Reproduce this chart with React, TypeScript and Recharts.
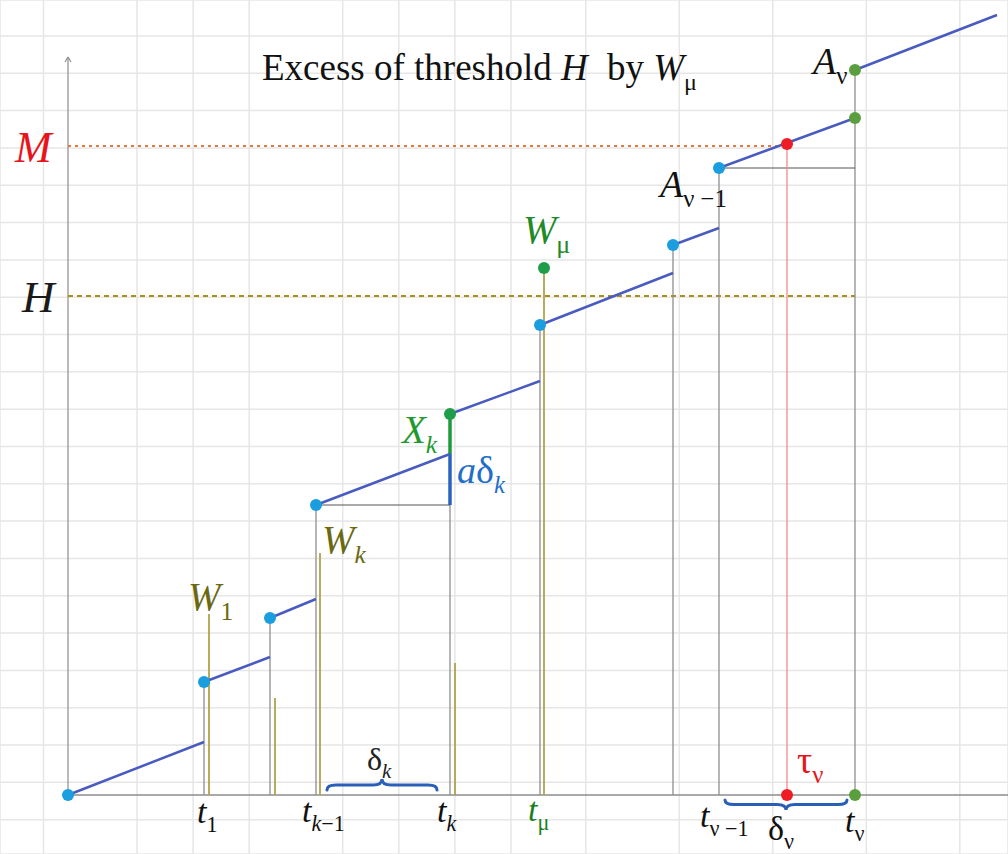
import {
  CartesianGrid,
  ComposedChart,
  Line,
  ReferenceArea,
  ReferenceDot,
  ReferenceLine,
  Scatter,
  XAxis,
  YAxis,
} from 'recharts';

// jump moments t_1 ... t_nu and the process level just before / just after each jump
const jumpTimes = [136, 202, 248, 382, 472, 605, 651, 787];
const levelBefore = [53, 138, 196, 341, 414, 522, 567, 677];
const levelAfter = [113, 177, 290, 381, 470, 550, 627, 725];
const pathStart = { x: 0, y: 0 };
const pathEnd = { x: 929, y: 780 };

// thin gray verticals from the time axis up to these levels
const grayTops = [113, 177, 290, 290, 470, 550, 627, 725];
// gray horizontal guides: [from, to, level]
const guides: [number, number, number][] = [
  [248, 382, 290],
  [651, 787, 627],
];

// W values (olive spikes)
const wTimes = [141, 207, 252, 387, 476];
const wValues = [181, 97, 242, 132, 527];

const H = 499;
const M = 649;
const hEnd = 787;
const tau = 719;
const tauLevel = 651;
const xMax = 940;
const yMax = 738;

const blueDots = [
  { x: 0, y: 0 },
  { x: 136, y: 113 },
  { x: 202, y: 177 },
  { x: 248, y: 290 },
  { x: 472, y: 470 },
  { x: 605, y: 550 },
  { x: 651, y: 627 },
];
const greenDots = [
  { x: 382, y: 381 },
  { x: 476, y: 527 },
];
const olivegreenDots = [
  { x: 787, y: 677 },
  { x: 787, y: 725 },
  { x: 787, y: 0 },
];
const redDots = [
  { x: tau, y: tauLevel },
  { x: tau, y: 0 },
];

type Part = [string, 'i' | 'r' | 'si' | 'sr', number?];
interface Lab {
  x: number;
  y: number;
  style: keyof typeof labelStyles;
  parts: Part[];
}

const labelStyles = {
  title: { size: 37, color: '#111' },
  M: { size: 44, color: '#e8141c' },
  H: { size: 45, color: '#1a1a1a' },
  green: { size: 40, color: '#1e8a28' },
  greenSmall: { size: 39, color: '#1f9a2e' },
  blue: { size: 38, color: '#1f6ec8' },
  olive: { size: 39, color: '#6b6812' },
  A: { size: 38, color: '#111' },
  tick: { size: 34, color: '#111' },
  tickGreen: { size: 34, color: '#1a7f1a' },
  tickRed: { size: 38, color: '#e8141c' },
  delta: { size: 32, color: '#222' },
};

const labels: Lab[] = [
  { x: 194, y: 715, style: 'title', parts: [['Excess of threshold ', 'r'], ['H', 'i'], [' by ', 'r', 10], ['W', 'i'], ['μ', 'sr']] },
  { x: -53, y: 633, style: 'M', parts: [['M', 'i']] },
  { x: -46, y: 483, style: 'H', parts: [['H', 'i']] },
  { x: 455, y: 552, style: 'green', parts: [['W', 'i'], ['μ', 'sr']] },
  { x: 745, y: 721, style: 'A', parts: [['A', 'i'], ['ν', 'sr']] },
  { x: 592, y: 598, style: 'A', parts: [['A', 'i'], ['ν', 'sr'], [' −1', 'sr']] },
  { x: 334, y: 352, style: 'greenSmall', parts: [['X', 'i'], ['k', 'si']] },
  { x: 389, y: 312, style: 'blue', parts: [['a', 'i'], ['δ', 'r'], ['k', 'si']] },
  { x: 254, y: 242, style: 'olive', parts: [['W', 'i'], ['k', 'si']] },
  { x: 120, y: 185, style: 'olive', parts: [['W', 'i'], ['1', 'sr']] },
  { x: 299, y: 25, style: 'delta', parts: [['δ', 'r'], ['k', 'si']] },
  { x: 129, y: -28, style: 'tick', parts: [['t', 'i'], ['1', 'sr']] },
  { x: 234, y: -27, style: 'tick', parts: [['t', 'i'], ['k', 'si'], ['−1', 'sr']] },
  { x: 369, y: -27, style: 'tick', parts: [['t', 'i'], ['k', 'si']] },
  { x: 460, y: -26, style: 'tickGreen', parts: [['t', 'i'], ['μ', 'sr']] },
  { x: 632, y: -32, style: 'tick', parts: [['t', 'i'], ['ν', 'sr'], [' −1', 'sr']] },
  { x: 700, y: -45, style: 'tick', parts: [['δ', 'r'], ['ν', 'sr']] },
  { x: 777, y: -37, style: 'tick', parts: [['t', 'i'], ['ν', 'sr']] },
  { x: 729, y: 22, style: 'tickRed', parts: [['τ', 'r'], ['ν', 'sr']] },
];

// braces under/over the intervals delta_k and delta_nu: [x1, x2, y1, y2, cusp direction]
const braces: [number, number, number, number, 'up' | 'down'][] = [
  [259, 369, 5, 16, 'up'],
  [657, 779, -15, -5, 'down'],
];

// background grid (paper squares)
const gridX = Array.from({ length: 53 }, (_, i) => 24.8 + i * 18.7 - 68);
const gridY = Array.from({ length: 46 }, (_, i) => 795 - (17.3 + i * 18.66));

const bluePath: { x: number; y: number | null }[] = [];
{
  let prev = pathStart;
  jumpTimes.forEach((t, i) => {
    bluePath.push(prev, { x: t, y: levelBefore[i] }, { x: t, y: null });
    prev = { x: t, y: levelAfter[i] };
  });
  bluePath.push(prev, pathEnd);
}

const FONT = "'Liberation Serif', 'Times New Roman', serif";

function MathText({ cx, cy, lab }: { cx: number; cy: number; lab: Lab }) {
  const { size, color } = labelStyles[lab.style];
  const sub = size * 0.65;
  const shift = size * 0.26;
  let cur = 0;
  return (
    <text x={cx} y={cy} fill={color} fontSize={size} fontFamily={FONT} style={{ whiteSpace: 'pre' }}>
      {lab.parts.map(([t, k, dx], i) => {
        const isSub = k[0] === 's';
        const target = isSub ? shift : 0;
        const dy = target - cur;
        cur = target;
        return (
          <tspan key={i} dx={dx} dy={dy || undefined} fontSize={isSub ? sub : size} fontStyle={k.endsWith('i') ? 'italic' : 'normal'}>
            {t}
          </tspan>
        );
      })}
    </text>
  );
}

function bracePath(x: number, y: number, w: number, h: number, dir: 'up' | 'down') {
  const r = 9;
  const cx = x + w / 2;
  if (dir === 'down') {
    const yf = y + h * 0.45;
    return `M${x},${y} Q${x},${yf} ${x + r},${yf} L${cx - r},${yf} Q${cx},${yf} ${cx},${y + h} Q${cx},${yf} ${cx + r},${yf} L${x + w - r},${yf} Q${x + w},${yf} ${x + w},${y}`;
  }
  const yf = y + h * 0.55;
  const yb = y + h;
  return `M${x},${yb} Q${x},${yf} ${x + r},${yf} L${cx - r},${yf} Q${cx},${yf} ${cx},${y} Q${cx},${yf} ${cx + r},${yf} L${x + w - r},${yf} Q${x + w},${yf} ${x + w},${yb}`;
}

const dotShape = (r: number, fill: string) => (p: any) => <circle cx={p.cx} cy={p.cy} r={r} fill={fill} />;

export default function App() {
  return (
    <div style={{ width: 1008, height: 854, background: '#fff' }}>
      <style>{'body{margin:0}'}</style>
      <ComposedChart width={1008} height={854} margin={{ top: 0, right: 0, bottom: 0, left: 0 }}>
        <XAxis type="number" dataKey="x" domain={[-68, 940]} ticks={gridX} hide allowDataOverflow />
        <YAxis type="number" dataKey="y" domain={[-59, 795]} ticks={gridY} hide allowDataOverflow />
        <CartesianGrid stroke="#e6e6e6" strokeWidth={1.5} />

        {/* axes */}
        <ReferenceLine segment={[{ x: 0, y: 0 }, { x: xMax, y: 0 }]} stroke="#8c8c8c" strokeWidth={1.5} />
        <ReferenceLine segment={[{ x: 0, y: 0 }, { x: 0, y: yMax }]} stroke="#8c8c8c" strokeWidth={1.2} />
        <ReferenceLine segment={[{ x: -3, y: yMax - 5 }, { x: 0, y: yMax }]} stroke="#8c8c8c" strokeWidth={1.2} />
        <ReferenceLine segment={[{ x: 3, y: yMax - 5 }, { x: 0, y: yMax }]} stroke="#8c8c8c" strokeWidth={1.2} />

        {/* thresholds */}
        <ReferenceLine segment={[{ x: 0, y: M }, { x: tau, y: M }]} stroke="#e07a45" strokeWidth={1.8} strokeDasharray="3 4" />
        <ReferenceLine segment={[{ x: 0, y: H }, { x: hEnd, y: H }]} stroke="#a8901a" strokeWidth={2} strokeDasharray="5 4" />

        {/* verticals at jump moments */}
        {jumpTimes.map((t, i) => (
          <ReferenceLine key={`g${i}`} segment={[{ x: t, y: 0 }, { x: t, y: grayTops[i] }]} stroke="#8e8e8e" strokeWidth={1.3} />
        ))}
        {guides.map(([a, b, l], i) => (
          <ReferenceLine key={`h${i}`} segment={[{ x: a, y: l }, { x: b, y: l }]} stroke="#555" strokeWidth={1} />
        ))}
        {wTimes.map((t, i) => (
          <ReferenceLine key={`w${i}`} segment={[{ x: t, y: 0 }, { x: t, y: wValues[i] }]} stroke="#b3a24a" strokeWidth={1.8} />
        ))}
        <ReferenceLine segment={[{ x: tau, y: 0 }, { x: tau, y: tauLevel }]} stroke="#f28a8a" strokeWidth={1.3} />

        {/* a*delta_k and X_k at t_k */}
        <ReferenceLine segment={[{ x: jumpTimes[3], y: grayTops[3] }, { x: jumpTimes[3], y: levelBefore[3] }]} stroke="#2a62c0" strokeWidth={3.5} />
        <ReferenceLine segment={[{ x: jumpTimes[3], y: levelBefore[3] }, { x: jumpTimes[3], y: levelAfter[3] }]} stroke="#1e9a3a" strokeWidth={3.5} />

        <Line
          data={bluePath}
          dataKey="y"
          type="linear"
          stroke="#4a5bbf"
          strokeWidth={2.5}
          dot={false}
          activeDot={false}
          connectNulls={false}
          isAnimationActive={false}
        />

        <Scatter data={blueDots} dataKey="y" shape={dotShape(6, '#1a9ee0')} isAnimationActive={false} />
        <Scatter data={greenDots} dataKey="y" shape={dotShape(6, '#1e9e48')} isAnimationActive={false} />
        <Scatter data={olivegreenDots} dataKey="y" shape={dotShape(6, '#5a9e3e')} isAnimationActive={false} />
        <Scatter data={redDots} dataKey="y" shape={dotShape(6, '#ee1c24')} isAnimationActive={false} />

        {braces.map(([x1, x2, y1, y2, dir], i) => (
          <ReferenceArea
            key={`b${i}`}
            x1={x1}
            x2={x2}
            y1={y1}
            y2={y2}
            shape={(p: any) => (
              <path d={bracePath(p.x, p.y, p.width, p.height, dir)} fill="none" stroke="#2a5fb8" strokeWidth={3} strokeLinecap="round" />
            )}
          />
        ))}

        {labels.map((lab, i) => (
          <ReferenceDot key={`l${i}`} x={lab.x} y={lab.y} r={0} shape={(p: any) => <MathText cx={p.cx} cy={p.cy} lab={lab} />} />
        ))}
      </ComposedChart>
    </div>
  );
}
